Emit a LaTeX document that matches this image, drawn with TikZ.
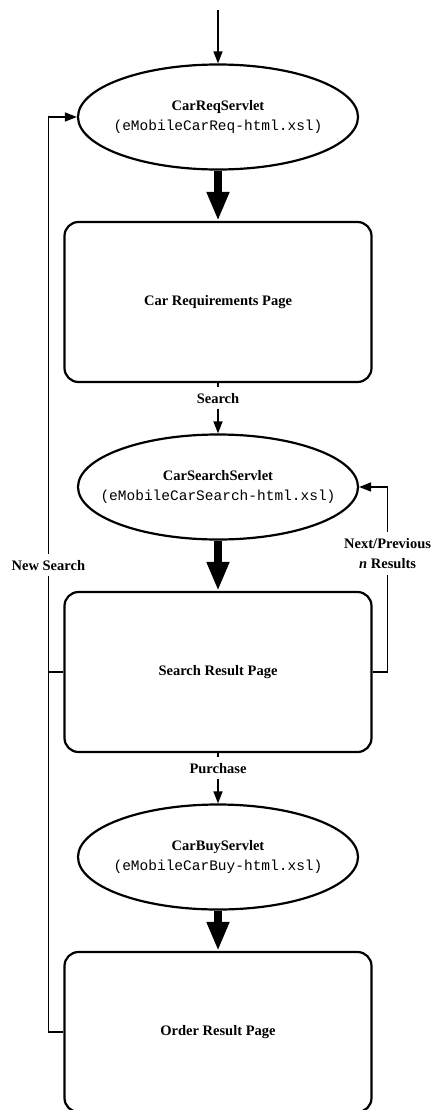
\documentclass[tikz,border=0pt]{standalone}
\usepackage{fontspec}
\setmainfont{Liberation Serif}
\setmonofont{Liberation Mono}
\usetikzlibrary{shapes,arrows.meta}

\begin{document}
\begin{tikzpicture}[x=1pt, y=-1pt, node distance=185pt, line width=1.5pt,
  font=\fontsize{14.5}{20}\selectfont\bfseries,
  srv/.style={ellipse, draw, line width=2.2pt, minimum width=280pt, minimum height=105pt,
    inner xsep=-20pt, inner ysep=0pt, align=center},
  page/.style={rectangle, draw, line width=2.2pt, rounded corners=14pt,
    minimum width=307pt, minimum height=160pt},
  arr/.style={-{Triangle[width=9pt,length=12pt]}},
  fat/.style={line width=8pt, -{Triangle[width=21pt,length=29pt]}},
  lbl/.style={fill=white, inner xsep=2pt, inner ysep=6pt, align=center}]
  \useasboundingbox (0,0) rectangle (435,1110);

  \coordinate (in) at (218,10);
  \node [srv] (s0) at (218,117) {CarReqServlet\\\mdseries\texttt{(eMobileCarReq-html.xsl)}};
  \node [page] (p0) [below of=s0] {Car Requirements Page};
  \node [srv] (s1) [below of=p0] {CarSearchServlet\\\mdseries\texttt{(eMobileCarSearch-html.xsl)}};
  \node [page] (p1) [below of=s1] {Search Result Page};
  \node [srv] (s2) [below of=p1] {CarBuyServlet\\\mdseries\texttt{(eMobileCarBuy-html.xsl)}};
  \node [page] (p2) [below of=s2, node distance=175pt] {Order Result Page};

  \draw [arr] (in) -- (s0);
  \path
  (s0) edge [fat] (p0)
  (p0) edge [arr] node [lbl, pos=0.3] {Search} (s1)
  (s1) edge [fat] (p1)
  (p1) edge [arr] node [lbl, pos=0.3] {Purchase} (s2)
  (s2) edge [fat] (p2)
  ;
  % loops back to the servlets
  \draw [arr] (p1.east) -- ++(15,0) |- node [lbl, pos=0.32] {Next/Previous\\\textit{n} Results} (s1.east);
  \draw [arr] (p2.west) -- ++(-15,0) |- node [lbl, pos=0.255] {New Search} (s0.west);
  \draw (p1.west) -- ++(-15,0);
\end{tikzpicture}
\end{document}
